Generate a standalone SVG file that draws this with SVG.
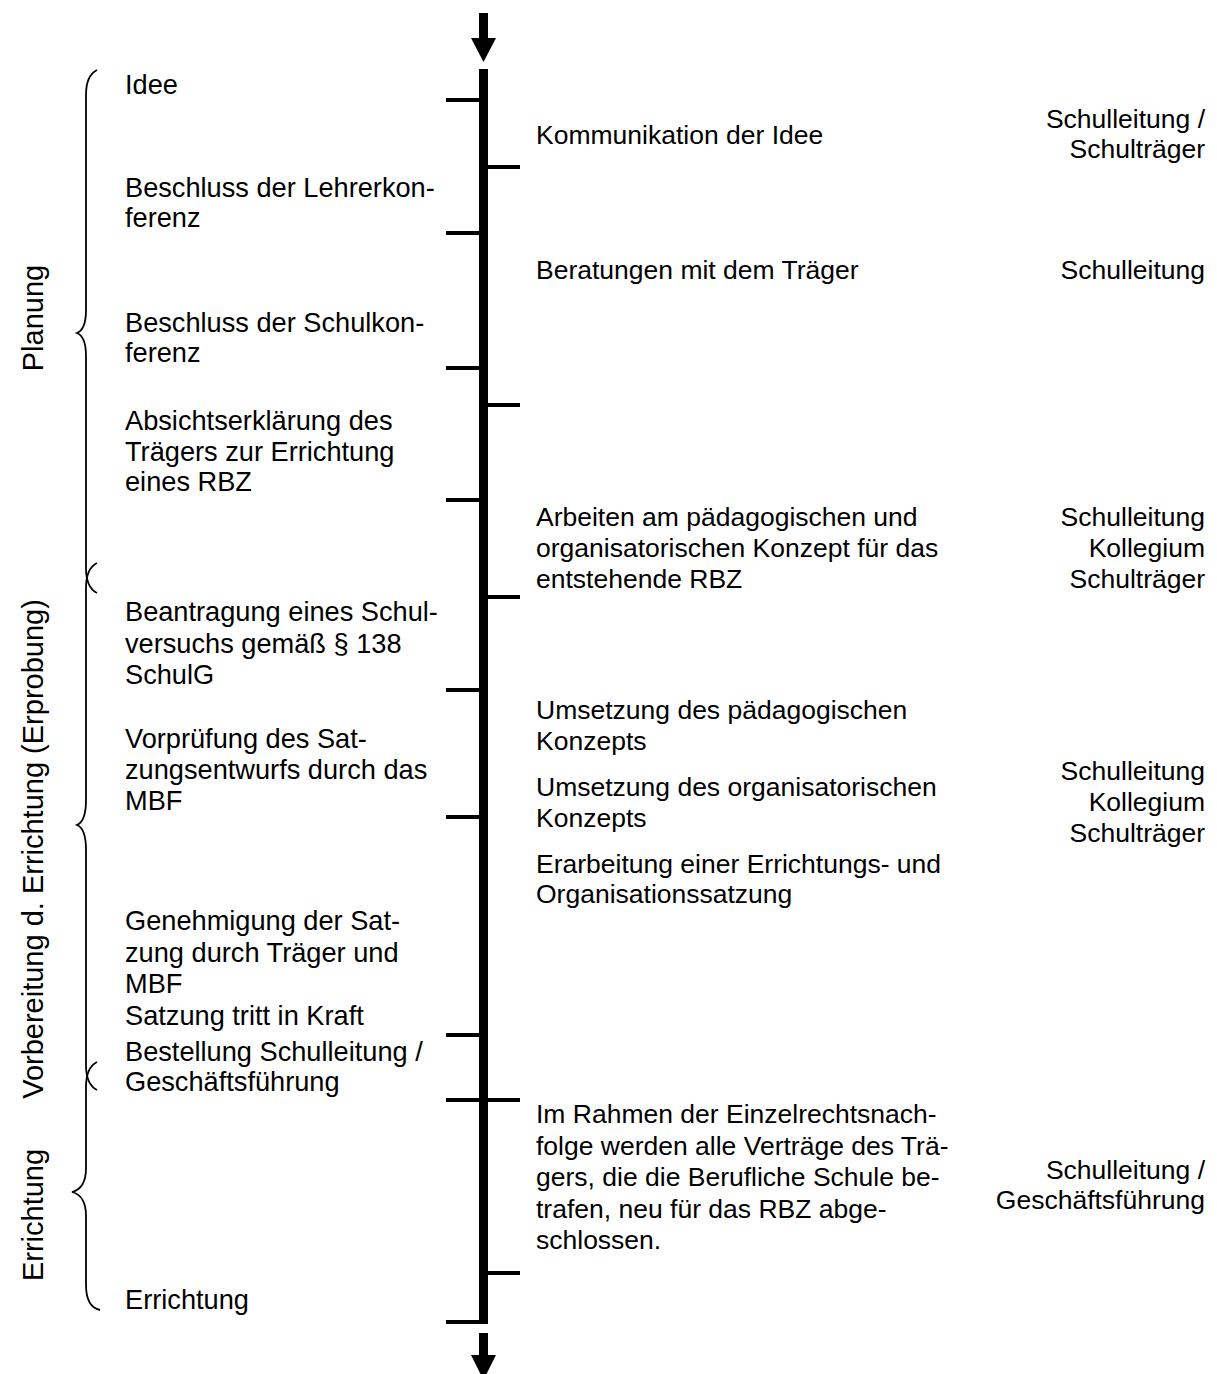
<svg xmlns="http://www.w3.org/2000/svg" width="1217" height="1374" viewBox="0 0 1217 1374">
<style>
text{font-family:"Liberation Sans",Arial,sans-serif;font-size:26.5px;fill:#000}
.l{font-size:27.2px}
.r{text-anchor:end}
.ph{font-size:29px;text-anchor:middle}
.brace{fill:none;stroke:#000;stroke-width:1.8}
.tick{fill:#000}
</style>
<rect width="1217" height="1374" fill="#fff"/>
<g id="connectors">
<rect x="479" y="13" width="9" height="27"/>
<polygon points="471,38 496,38 483.5,62"/>
<rect x="479" y="69" width="9" height="1255"/>
<rect x="479" y="1333" width="9" height="24"/>
<polygon points="471,1355 496,1355 483.5,1380"/>
<g class="tick">
<rect x="446" y="98" width="34" height="4"/>
<rect x="446" y="231" width="34" height="4"/>
<rect x="446" y="366" width="34" height="4"/>
<rect x="446" y="498" width="34" height="4"/>
<rect x="446" y="688" width="34" height="4"/>
<rect x="446" y="815" width="34" height="4"/>
<rect x="446" y="1033" width="34" height="4"/>
<rect x="446" y="1098" width="34" height="4"/>
<rect x="446" y="1320" width="34" height="4"/>
<rect x="487" y="165" width="33" height="4"/>
<rect x="487" y="403" width="33" height="4"/>
<rect x="487" y="595" width="33" height="4"/>
<rect x="487" y="1098" width="33" height="4"/>
<rect x="487" y="1271" width="33" height="4"/>
</g>
</g>
<g id="braces">
<path class="brace" d="M97,70 C89,74 86,82 86,95 L86,310 C86,325 82,331 77,333 C82,335 86,341 86,356 L86,568 C86,581 89,589 97,593"/>
<path class="brace" d="M97,563 C89,567 86,575 86,588 L86,800 C86,815 82,823 77,825 C82,827 86,835 86,850 L86,1065 C86,1078 89,1086 97,1090"/>
<path class="brace" d="M97,1062 C89,1066 86,1074 86,1087 L86,1168 C86,1183 80,1190 72,1192 C80,1194 86,1201 86,1216 L86,1285 C86,1300 91,1308 100,1310"/>
</g>
<g id="phases">
<text class="ph" transform="translate(43,318) rotate(-90)">Planung</text>
<text class="ph" transform="translate(43,849) rotate(-90)">Vorbereitung d. Errichtung (Erprobung)</text>
<text class="ph" transform="translate(43,1215) rotate(-90)">Errichtung</text>
</g>
<g id="left-events" class="l">
<text class="l" x="125" y="94">Idee</text>
<text class="l" x="125" y="197">Beschluss der Lehrerkon-<tspan x="125" dy="30">ferenz</tspan></text>
<text class="l" x="125" y="332">Beschluss der Schulkon-<tspan x="125" dy="30">ferenz</tspan></text>
<text class="l" x="125" y="430">Absichtserklärung des<tspan x="125" dy="30.5">Trägers zur Errichtung</tspan><tspan x="125" dy="30.5">eines RBZ</tspan></text>
<text class="l" x="125" y="621">Beantragung eines Schul-<tspan x="125" dy="31.5">versuchs gemäß § 138</tspan><tspan x="125" dy="31.5">SchulG</tspan></text>
<text class="l" x="125" y="748">Vorprüfung des Sat-<tspan x="125" dy="31">zungsentwurfs durch das</tspan><tspan x="125" dy="31">MBF</tspan></text>
<text class="l" x="125" y="930">Genehmigung der Sat-<tspan x="125" dy="32">zung durch Träger und</tspan><tspan x="125" dy="31">MBF</tspan><tspan x="125" dy="32">Satzung tritt in Kraft</tspan></text>
<text class="l" x="125" y="1061">Bestellung Schulleitung /<tspan x="125" dy="30">Geschäftsführung</tspan></text>
<text class="l" x="125" y="1309">Errichtung</text>
</g>
<g id="activities">
<text x="536" y="144">Kommunikation der Idee</text>
<text x="536" y="279">Beratungen mit dem Träger</text>
<text x="536" y="526">Arbeiten am pädagogischen und<tspan x="536" dy="31">organisatorischen Konzept für das</tspan><tspan x="536" dy="31">entstehende RBZ</tspan></text>
<text x="536" y="719">Umsetzung des pädagogischen<tspan x="536" dy="31">Konzepts</tspan></text>
<text x="536" y="796">Umsetzung des organisatorischen<tspan x="536" dy="31">Konzepts</tspan></text>
<text x="536" y="873">Erarbeitung einer Errichtungs- und<tspan x="536" dy="30">Organisationssatzung</tspan></text>
<text x="536" y="1123">Im Rahmen der Einzelrechtsnach-<tspan x="536" dy="31.5">folge werden alle Verträge des Trä-</tspan><tspan x="536" dy="31.5">gers, die die Berufliche Schule be-</tspan><tspan x="536" dy="31.5">trafen, neu für das RBZ abge-</tspan><tspan x="536" dy="31.5">schlossen.</tspan></text>
</g>
<g id="responsible">
<text class="r" x="1205" y="128">Schulleitung /<tspan x="1205" dy="30">Schulträger</tspan></text>
<text class="r" x="1205" y="279">Schulleitung</text>
<text class="r" x="1205" y="526">Schulleitung<tspan x="1205" dy="31">Kollegium</tspan><tspan x="1205" dy="31">Schulträger</tspan></text>
<text class="r" x="1205" y="780">Schulleitung<tspan x="1205" dy="31">Kollegium</tspan><tspan x="1205" dy="31">Schulträger</tspan></text>
<text class="r" x="1205" y="1179">Schulleitung /<tspan x="1205" dy="30">Geschäftsführung</tspan></text>
</g>
</svg>
